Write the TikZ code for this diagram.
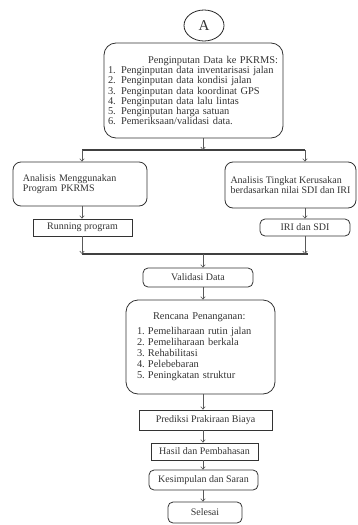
\documentclass[tikz,border=0pt]{standalone}
\usepackage{fontspec}
\setmainfont{Liberation Serif}
\usetikzlibrary{shapes.geometric, arrows.meta}

\begin{document}
\begin{tikzpicture}[x=1pt, y=-1pt,
        every node/.style={font=\fontsize{10}{10.5}\selectfont, text=black!80},
        box/.style={draw=black!80, line width=0.8pt, inner sep=0pt},
        rbox/.style={box, rounded corners=5pt},
        listbox/.style={box, align=left, inner ysep=0pt},
        arr/.style={draw=black!65, line width=0.6pt, -{Straight Barb[length=2.5pt, width=4.5pt]}},
        bus/.style={draw=black!75, line width=1.6pt}]
            \useasboundingbox (0,0) rectangle (358,525);
            \coordinate (axis) at (203,0);
            \node[draw=black!85, line width=0.8pt, ellipse, minimum width=40, minimum height=31, font=\fontsize{15}{15}\selectfont] (A) at (204,25.5) {A};
            \node[listbox, rounded corners=12pt, text width=171, inner xsep=4pt, minimum height=95, font=\fontsize{10.4}{10.3}\selectfont] (input) at (193.5,90.5) {%
                \hspace*{40pt}Penginputan Data ke PKRMS:\\
                1. Penginputan data inventarisasi jalan\\
                2. Penginputan data kondisi jalan\\
                3. Penginputan data koordinat GPS\\
                4. Penginputan data lalu lintas\\
                5. Penginputan harga satuan\\
                6. Pemeriksaan/validasi data.};
            \coordinate (busL) at (82,150);
            \coordinate (busR) at (305,150);
            \node[listbox, rounded corners=8pt, text width=114, inner xsep=10pt, minimum height=44] (pkrms) at (80,184) {Analisis Menggunakan\\Program PKRMS};
            \node[listbox, rounded corners=8pt, inner xsep=0pt, minimum width=131, minimum height=46] (kerusakan) at (290.5,185) {Analisis Tingkat Kerusakan\\berdasarkan nilai SDI dan IRI};
            \node[box, minimum width=99, minimum height=17] (running) at (82.5,227.5) {Running program};
            \node[rbox, minimum width=90, minimum height=17] (irisdi) at (305,227.5) {IRI dan SDI};
            \coordinate (lowL) at (82,254);
            \coordinate (lowR) at (308,254);
            \node[rbox, minimum width=110, minimum height=19] (validasi) at (198,277.5) {Validasi Data};
            \node[listbox, rounded corners=12pt, text width=127, inner xsep=11pt, minimum height=94, font=\fontsize{10.4}{11}\selectfont] (rencana) at (200.5,347) {%
                \hspace*{16pt}Rencana Penanganan:\\[4pt]
                \makebox[11pt][l]{1.}Pemeliharaan rutin jalan\\
                \makebox[11pt][l]{2.}Pemeliharaan berkala\\
                \makebox[11pt][l]{3.}Rehabilitasi\\
                \makebox[11pt][l]{4.}Pelebebaran\\
                \makebox[11pt][l]{5.}Peningkatan struktur};
            \node[box, minimum width=133, minimum height=20] (prediksi) at (205.5,420) {Prediksi Prakiraan Biaya};
            \node[box, minimum width=107, minimum height=17] (hasil) at (204.5,451.5) {Hasil dan Pembahasan};
            \node[rbox, minimum width=109, minimum height=20] (kesimpulan) at (203.5,480) {Kesimpulan dan Saran};
            \node[rbox, minimum width=74, minimum height=21] (selesai) at (205,512.5) {Selesai};
            \draw[bus] (busL) -- (busR);
            \draw[arr] (input.south -| axis) -- (busL -| axis);
            \draw[arr] (busL) -- (pkrms.north -| busL);
            \draw[arr] (busR) -- (kerusakan.north -| busR);
            \draw[arr] (pkrms.south -| busL) -- (running.north -| busL);
            \draw[arr] (kerusakan.south -| busR) -- (irisdi.north -| busR);
            \draw[bus] (lowL) -- (lowR);
            \draw[arr] (running.south -| lowL) -- (lowL);
            \draw[arr] (irisdi.south -| busR) -- (lowR -| busR);
            \draw[arr] (lowL -| axis) -- (validasi.north -| axis);
            \foreach \from/\to in {validasi/rencana, rencana/prediksi, prediksi/hasil, hasil/kesimpulan, kesimpulan/selesai}
            {
                \draw[arr] (\from.south -| axis) -- (\to.north -| axis);
            }
        \end{tikzpicture}
\end{document}
